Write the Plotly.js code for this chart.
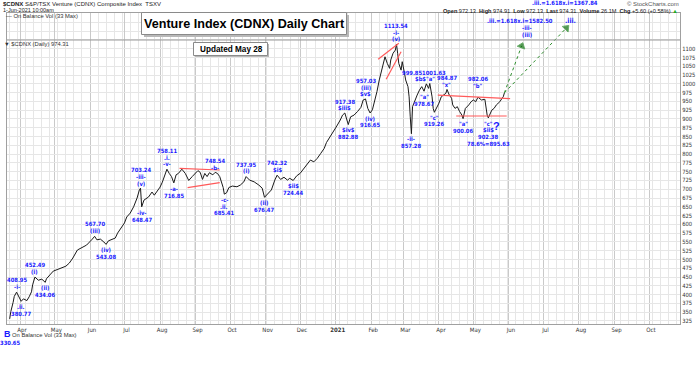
<!DOCTYPE html>
<html><head><meta charset="utf-8">
<script src="https://cdn.plot.ly/plotly-3.0.1.min.js"></script>
<style>html,body{margin:0;padding:0;background:#fff}#chart{width:700px;height:365px}</style>
</head><body><div id="chart"></div>
<script>
// ---- price path (close-ish values) ----
const dates = ['2020-03-23','2020-03-24','2020-03-26','2020-03-27','2020-03-29','2020-03-31','2020-04-02','2020-04-04','2020-04-07','2020-04-09','2020-04-11','2020-04-12','2020-04-14','2020-04-17','2020-04-20','2020-04-23','2020-04-24','2020-04-27','2020-04-30','2020-05-04','2020-05-07','2020-05-11','2020-05-14','2020-05-17','2020-05-21','2020-05-25','2020-05-29','2020-06-03','2020-06-05','2020-06-07','2020-06-10','2020-06-13','2020-06-15','2020-06-17','2020-06-20','2020-06-23','2020-06-25','2020-06-28','2020-07-01','2020-07-03','2020-07-06','2020-07-09','2020-07-12','2020-07-14','2020-07-15','2020-07-16','2020-07-18','2020-07-22','2020-07-25','2020-07-27','2020-07-30','2020-08-01','2020-08-03','2020-08-05','2020-08-07','2020-08-09','2020-08-11','2020-08-13','2020-08-15','2020-08-17','2020-08-20','2020-08-23','2020-08-26','2020-08-29','2020-09-01','2020-09-03','2020-09-05','2020-09-07','2020-09-09','2020-09-11','2020-09-13','2020-09-16','2020-09-18','2020-09-20','2020-09-22','2020-09-24','2020-09-25','2020-09-26','2020-09-28','2020-09-30','2020-10-03','2020-10-07','2020-10-10','2020-10-13','2020-10-15','2020-10-18','2020-10-22','2020-10-26','2020-10-29','2020-10-31','2020-11-03','2020-11-06','2020-11-09','2020-11-11','2020-11-14','2020-11-17','2020-11-20','2020-11-22','2020-11-25','2020-11-28','2020-12-01','2020-12-04','2020-12-07','2020-12-10','2020-12-13','2020-12-16','2020-12-19','2020-12-22','2020-12-24','2020-12-27','2020-12-30','2021-01-02','2021-01-05','2021-01-07','2021-01-09','2021-01-10','2021-01-12','2021-01-14','2021-01-17','2021-01-20','2021-01-23','2021-01-25','2021-01-27','2021-01-29','2021-01-31','2021-02-02','2021-02-04','2021-02-06','2021-02-08','2021-02-10','2021-02-11','2021-02-13','2021-02-15','2021-02-17','2021-02-18','2021-02-20','2021-02-22','2021-02-23','2021-02-24','2021-02-25','2021-02-27','2021-02-28','2021-03-02','2021-03-03','2021-03-05','2021-03-06','2021-03-07','2021-03-08','2021-03-09','2021-03-11','2021-03-13','2021-03-15','2021-03-17','2021-03-19','2021-03-21','2021-03-23','2021-03-24','2021-03-26','2021-03-27','2021-03-28','2021-04-01','2021-04-03','2021-04-07','2021-04-08','2021-04-10','2021-04-12','2021-04-13','2021-04-15','2021-04-17','2021-04-19','2021-04-21','2021-04-22','2021-04-24','2021-04-27','2021-04-29','2021-05-01','2021-05-03','2021-05-05','2021-05-08','2021-05-11','2021-05-12','2021-05-13','2021-05-14','2021-05-17','2021-05-19','2021-05-21','2021-05-24','2021-05-25','2021-05-26','2021-05-27','2021-05-28'];
const prices = [331,352,378,395,407,392,381,388,383,394,408,428,450,441,444,435,445,456,467,472,476,481,490,504,527,533,541,558,566,556,558,550,543,553,558,561,575,590,604,621,632,650,675,698,703,650,669,678,692,683,698,706,720,736,757,745,736,718,741,745,757,745,725,736,745,753,748,728,745,736,747,741,748,745,736,717,705,686,690,705,709,707,712,721,736,726,721,712,703,677,688,698,726,740,728,734,726,731,725,738,745,757,769,783,778,788,802,816,833,848,864,880,897,911,917,905,884,906,911,921,933,954,957,930,917,926,949,978,1011,1039,1058,1077,1058,1044,1068,1087,1096,1113,1087,1058,1039,1063,1030,1011,992,963,906,858,935,954,968,982,992,979,1000,987,1001,963,930,919,945,963,973,984,968,959,940,930,935,921,911,901,930,940,949,954,949,962,954,956,925,911,903,925,930,940,949,956,959,963,974];

// ---- axis ticks ----
const monthTicks = ['2020-04-01','2020-05-01','2020-06-01','2020-07-01','2020-08-01','2020-09-01','2020-10-01','2020-11-01','2020-12-01','2021-01-01','2021-02-01','2021-03-01','2021-04-01','2021-05-01','2021-06-01','2021-07-01','2021-08-01','2021-09-01','2021-10-01'];
const monthLabels = ['Apr','May','Jun','Jul','Aug','Sep','Oct','Nov','Dec','<b>2021</b>','Feb','Mar','Apr','May','Jun','Jul','Aug','Sep','Oct'];
const yTicks = [325,350,375,400,425,450,475,500,525,550,575,600,625,650,675,700,725,750,775,800,825,850,875,900,925,950,975,1000,1025,1050,1075,1100];

// ---- wave labels (pivot date, pivot value, text lines, side) ----
const pivotDates = ['2020-03-29','2020-04-02','2020-04-14','2020-04-23','2020-06-05','2020-06-15','2020-07-15','2020-07-16','2020-08-07','2020-08-13','2020-09-18','2020-09-26','2020-10-15','2020-10-31','2020-11-11','2020-11-25','2021-01-09','2021-01-12','2021-01-27','2021-01-31','2021-02-23','2021-03-08','2021-03-19','2021-03-28','2021-04-08','2021-04-22','2021-05-05','2021-05-14'];
const pivotValues = [408.95,380.77,452.49,434.06,567.70,543.08,703.24,648.47,758.11,716.85,748.54,685.41,737.95,676.47,742.32,724.44,917.38,882.88,957.03,916.65,1113.54,857.28,978.67,919.26,984.87,900.06,982.06,902.38];
const pivotTexts = ['408.95|-i-','.ii.|380.77','452.49|(i)','(ii)|434.06','567.70|(iii)','(iv)|543.08','703.24|-iii-|(v)','-iv-|648.47','758.11|.i.|-v-','-a-|716.85','748.54|-b-','-c-|.ii.|685.41','737.95|(i)','(ii)|676.47','742.32|$i$','$ii$|724.44','917.38|$iii$','$iv$|882.88','957.03|(iii)|$v$','(iv)|916.65','1113.54|-i-|(v)','-ii-|857.28','"a"|978.67','"c"|919.26','984.87|"x"','"a"|900.06','982.06|"b"','"c"|$ii$|902.38|78.6%=895.63'];
const pivotSides = ['up','down','up','down','up','down','up','down','up','down','up','down','up','down','up','down','up','down','up','down','up','down','down','down','up','down','up','down'];

// ---- red trend lines ----
const trendX0 = ['2020-08-18','2020-08-25','2021-02-07','2021-02-14','2021-03-31','2021-04-16'];
const trendY0 = [759.6,704.4,1069.8,1012.9,968,908.5];
const trendX1 = ['2020-09-22','2020-09-22','2021-02-25','2021-02-27','2021-06-02','2021-05-30'];
const trendY1 = [754.8,718.6,1115.4,1091.5,958,908.5];

// ---- projection arrows ----
const projStartDate = '2021-05-28', projStartValue = 974.31;
const projDates = ['2021-06-12','2021-07-21'];
const projValues = [1107.7,1159];

const NARROW = '"Liberation Sans Narrow", "Arial Narrow", "DejaVu Sans Condensed", "Liberation Sans", Arial, sans-serif';
const SANS = '"Liberation Sans", Arial, sans-serif';
const BLUE = '#1a1aff';
const W=700,H=365,L=7,R=20;
const px = x => (x-L)/(W-L-R);
const py = y => (H-y)/H;

const traces = [{
  type:'scatter', mode:'lines', x:dates, y:prices, xaxis:'x', yaxis:'y',
  line:{color:'#1a1a1a', width:1}, hoverinfo:'skip'
}];
projDates.forEach((d,i)=>{
  traces.push({type:'scatter', mode:'lines+markers', x:[projStartDate,d], y:[projStartValue,projValues[i]],
    xaxis:'x', yaxis:'y', cliponaxis:false, line:{color:'#2f8f2f', width:1, dash:'dot'},
    marker:{symbol:['circle','triangle-up'], angleref:'previous', size:[3,7], color:['#e0c020','#0b6b0b']}, hoverinfo:'skip'});
});

const ann = [];
function txt(x,y,text,o){ ann.push(Object.assign({xref:'paper',yref:'paper',x:px(x),y:py(y),text:text,showarrow:false,xanchor:'left',yanchor:'middle',borderpad:0,font:{family:SANS,size:6,color:'#222'}},o||{})); }
const LH = 6.8;
const LBL = {family:NARROW,size:5.8,color:BLUE,weight:'bold'};
pivotDates.forEach((d,i)=>{
  const lines = pivotTexts[i].split('|');
  const up = pivotSides[i]==='up';
  lines.forEach((ln,j)=>{
    const k = up ? (lines.length-1-j) : j;
    ann.push({xref:'x',yref:'y',x:d,y:pivotValues[i],text:ln,showarrow:false,xanchor:'center',yanchor:'middle',borderpad:0,
      yshift: up ? (4.5 + k*LH) : -(5.5 + k*LH), font:LBL});
  });
});
// March 2021 double-top labels
txt(411.5,72.7,'999.85',{xanchor:'center',font:LBL});
txt(433.5,72.7,'1001.63',{xanchor:'center',font:LBL});
txt(425,79.3,'$b$"a"',{xanchor:'center',font:LBL});
// start low label (drawn down in lower pane)
ann.push({xref:'x',yref:'y',x:dates[0],y:330.65,text:'330.65',showarrow:false,xanchor:'center',yanchor:'middle',borderpad:0,yshift:-24,font:LBL});
// question mark
ann.push({xref:'x',yref:'y',x:'2021-05-21',y:902.38,text:'?',showarrow:false,xanchor:'center',yanchor:'middle',yshift:-8,font:{family:SANS,size:11,color:BLUE,weight:'bold'}});

// header texts
txt(2,4,'<b>$CDNX</b> S&P/TSX Venture (CDNX) Composite Index  TSXV',{font:{family:SANS,size:6,color:'#222'}});
txt(2,10,'1-Jun-2021 10:00am',{font:{family:SANS,size:5.5,color:'#222'}});
txt(680,4,'© StockCharts.com',{xanchor:'right',font:{family:SANS,size:6,color:'#555'}});
txt(679,10.5,'<b>Open</b> 972.13  <b>High</b> 974.91  <b>Low</b> 972.13  <b>Last</b> 974.31  <b>Volume</b> 26.1M  <b>Chg</b> +5.60 (+0.58%) <span style="color:#2a2">▲</span>',{xanchor:'right',font:{family:SANS,size:5.6,color:'#222'}});
txt(5,16.5,'<span style="color:#333">—</span> On Balance Vol (33 Max)',{font:{family:SANS,size:5.8,color:'#333'}});
txt(3,44,'▼ $CDNX (Daily) 974.31',{font:{family:SANS,size:5.8,color:'#333'}});
txt(3,334,'<b><span style="color:#1a1aff;font-size:9px">B</span></b> On Balance Vol (33 Max)',{font:{family:SANS,size:5.8,color:'#333'}});

// top projection labels
txt(520,21,'.iii.=1.618x.i=1582.50',{xanchor:'center',font:LBL});
txt(527,28,'-iii-',{xanchor:'center',font:LBL});
txt(527,35,'(iii)',{xanchor:'center',font:LBL});
txt(570,20.5,'.iii.',{xanchor:'center',font:{family:NARROW,size:6.8,color:BLUE,weight:'bold'}});
txt(565,3,'.iii.=1.618x.i=1367.84',{xanchor:'center',font:LBL});

// title boxes
txt(244.5,23.5,'<b>Venture Index (CDNX) Daily Chart</b>',{xanchor:'center',font:{family:SANS,size:12.6,color:'#000'}});
txt(231,49.5,'<b>Updated May 28</b>',{xanchor:'center',font:{family:SANS,size:8.2,color:'#000'}});

const shapes = [];
function rectPx(x0,y0,x1,y1,o){ shapes.push(Object.assign({type:'rect',xref:'paper',yref:'paper',x0:px(x0),x1:px(x1),y0:py(y1),y1:py(y0),line:{width:1,color:'#999'},fillcolor:'rgba(0,0,0,0)',layer:'above'},o||{})); }
shapes.push({type:'line',xref:'paper',yref:'paper',x0:0,x1:1,y0:py(40),y1:py(40),line:{color:'#9a9a9a',width:1},layer:'above'});
rectPx(144,15,349,37,{fillcolor:'#b8b8b8',line:{width:0},layer:'above'});
rectPx(141.5,12.5,346.5,34.5,{fillcolor:'#ffffff',line:{width:1,color:'#8a8a8a'}});
rectPx(195,44,269,57,{fillcolor:'#b8b8b8',line:{width:0}});
rectPx(193.5,42.5,267.5,55.5,{fillcolor:'#ffffff',line:{width:1,color:'#8a8a8a'}});
trendX0.forEach((d,i)=>{
  shapes.push({type:'line',xref:'x',yref:'y',x0:d,y0:trendY0[i],x1:trendX1[i],y1:trendY1[i],line:{color:'#ff5a5a',width:1.2},layer:'above'});
});

const gridC = '#e6e6e6', monthC = '#c9c9c9';
const layout = {
  width:W, height:H, margin:{l:L,r:R,t:0,b:0}, paper_bgcolor:'#fff', plot_bgcolor:'#fff', showlegend:false,
  xaxis:{type:'date', range:['2020-03-20 16:00','2021-10-28 00:00'], anchor:'y', tickmode:'array', tickvals:monthTicks, ticktext:monthLabels,
    showgrid:true, gridcolor:monthC, gridwidth:1, ticks:'', ticklabelshift:2, ticklabelstandoff:0,
    minor:{tickmode:'linear', tick0:'2020-03-23', dtick:604800000, showgrid:true, gridcolor:gridC, ticks:''},
    tickfont:{family:NARROW,size:6,color:'#333'}, showline:true, mirror:true, linecolor:'#a0a0a0', linewidth:1, zeroline:false, fixedrange:true},
  yaxis:{domain:[py(324),py(13)], range:[316.4,1201.6], side:'right', tickmode:'array', tickvals:yTicks, ticktext:yTicks.map(String),
    showgrid:true, gridcolor:gridC, ticks:'', tickfont:{family:NARROW,size:5.8,color:'#333'},
    minor:{tickmode:'linear', tick0:0, dtick:25, showgrid:true, gridcolor:gridC, ticks:''},
    showline:true, mirror:true, linecolor:'#a0a0a0', linewidth:1, zeroline:false, fixedrange:true},
  xaxis2:{type:'date', matches:'x', anchor:'y2', tickmode:'array', tickvals:monthTicks, ticktext:monthLabels,
    showgrid:true, gridcolor:monthC, ticks:'', ticklabelshift:2,
    minor:{tickmode:'linear', tick0:'2020-03-23', dtick:604800000, showgrid:true, gridcolor:gridC, ticks:''},
    tickfont:{family:NARROW,size:6,color:'#333'}, showline:true, mirror:true, linecolor:'#a0a0a0', linewidth:1, zeroline:false, fixedrange:true},
  yaxis2:{domain:[py(360),py(330)], range:[0,4], tickvals:[0,1,2,3,4], showticklabels:false, showgrid:true, gridcolor:gridC, ticks:'',
    showline:true, mirror:true, linecolor:'#a0a0a0', linewidth:1, zeroline:false, fixedrange:true},
  annotations:ann, shapes:shapes
};
Plotly.newPlot('chart', traces, layout, {displayModeBar:false, staticPlot:true});
</script></body></html>
